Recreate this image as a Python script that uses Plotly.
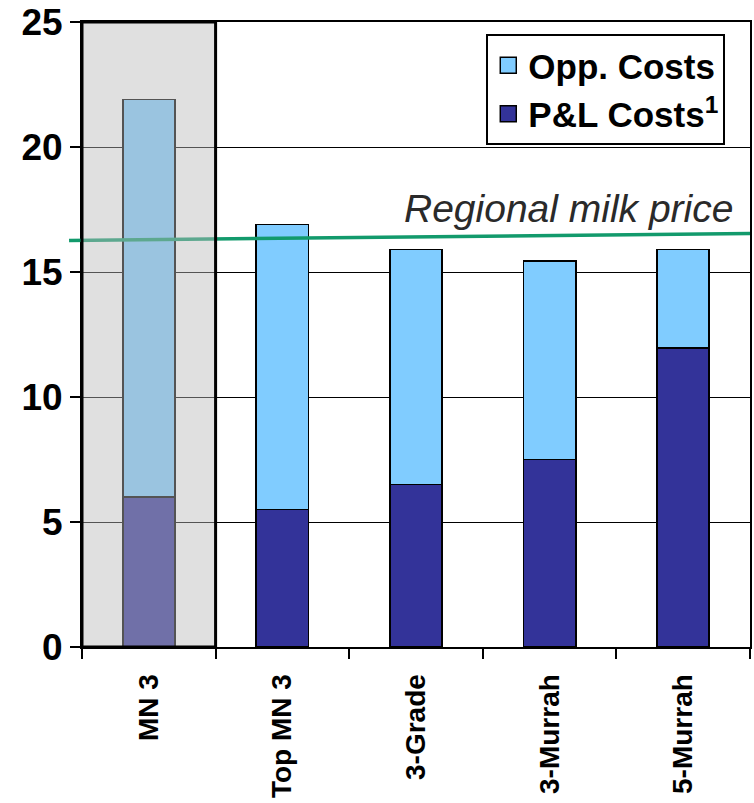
import plotly.graph_objects as go

# Cost build-up per system (value units on the y axis)
categories = ["MN 3", "Top MN 3", "3-Grade", "3-Murrah", "5-Murrah"]
pl_costs = [6.0, 5.5, 6.5, 7.5, 11.95]
total_costs = [21.9, 16.9, 15.9, 15.45, 15.9]
opp_costs = [t - p for t, p in zip(total_costs, pl_costs)]

# Regional milk price, left and right ends of the reference line
milk_price = [16.26, 16.54]
milk_label = "Regional milk price"

y_ticks = [0, 5, 10, 15, 20, 25]

PL_COLOR = "#333399"
OPP_COLOR = "#80ccff"
FONT = "Liberation Sans, Arial, sans-serif"
PL_NAME = "P&amp;L Costs<sup>1</sup>"
OPP_NAME = "Opp. Costs"

fig = go.Figure()
fig.add_trace(go.Bar(
    x=categories, y=pl_costs, name=PL_NAME, showlegend=False,
    marker=dict(color=PL_COLOR, line=dict(color="black", width=1.8)),
    width=0.39,
))
fig.add_trace(go.Bar(
    x=categories, y=opp_costs, name=OPP_NAME, showlegend=False,
    marker=dict(color=OPP_COLOR, line=dict(color="black", width=1.8)),
    width=0.39,
))

# legend entries with larger square swatches
for name, color in [(OPP_NAME, OPP_COLOR), (PL_NAME, PL_COLOR)]:
    fig.add_trace(go.Scatter(
        x=[None], y=[None], mode="markers", name=name,
        marker=dict(symbol="square", size=20, color=color,
                    line=dict(color="black", width=1.5)),
    ))

# milk price reference line (drawn before the highlight so it sits underneath)
fig.add_shape(
    type="line", xref="paper", yref="y",
    x0=-0.0194, x1=1.0, y0=milk_price[0], y1=milk_price[1],
    line=dict(color="#129a6c", width=3.5), layer="above",
)
# translucent highlight over the first system
fig.add_shape(
    type="rect", xref="paper", yref="paper",
    x0=0, x1=0.2, y0=0, y1=1,
    fillcolor="rgba(186,186,186,0.45)",
    line=dict(color="black", width=3), layer="above",
)
fig.add_annotation(
    xref="paper", yref="y", x=0.978, y=16.62,
    xanchor="right", yanchor="bottom", showarrow=False,
    text="<i>" + milk_label + "</i>",
    font=dict(family=FONT, size=39, color="#2a2a2a"),
)

fig.update_layout(
    width=754, height=803,
    margin=dict(l=82, r=2, t=22, b=156),
    barmode="stack",
    plot_bgcolor="white", paper_bgcolor="white",
    font=dict(family=FONT, color="black"),
    legend=dict(
        x=0.963, y=0.981, xanchor="right", yanchor="top",
        bgcolor="white", bordercolor="black", borderwidth=2,
        font=dict(family=FONT, size=35, weight="bold", color="black"),
        itemsizing="trace", itemwidth=30, traceorder="normal",
    ),
    xaxis=dict(
        type="category", range=[-0.5, 4.5],
        showline=True, linecolor="black", linewidth=2, mirror=True,
        ticks="outside", ticklen=10, tickwidth=2, tickcolor="black",
        tickson="boundaries", showgrid=False,
        tickangle=-90, ticklabelstandoff=14,
        tickfont=dict(family=FONT, size=28, weight="bold", color="black"),
    ),
    yaxis=dict(
        range=[0, 25], tickvals=y_ticks,
        showline=True, linecolor="black", linewidth=2, mirror=True,
        ticks="outside", ticklen=10, tickwidth=2, tickcolor="black",
        showgrid=True, gridcolor="black", gridwidth=1.4,
        zeroline=False,
        tickfont=dict(family=FONT, size=37, weight="bold", color="black"),
    ),
)

fig.write_html("out.html")
